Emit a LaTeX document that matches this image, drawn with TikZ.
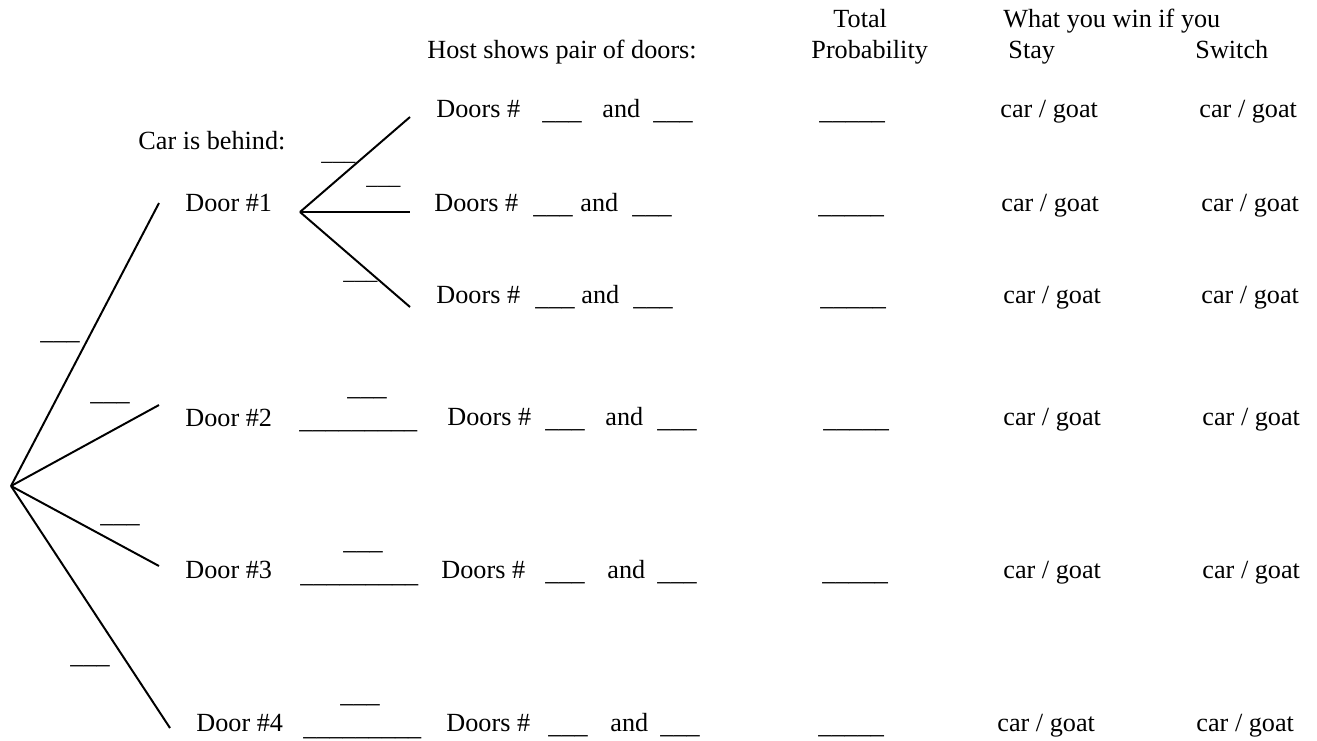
\documentclass[tikz,border=0pt]{standalone}
\usepackage{fontspec}
\setmainfont{Liberation Serif}
\usetikzlibrary{positioning}
\tikzset{
    % text pieces, placed by their baseline
    txt/.style={
           inner sep=0pt,
           anchor=base west,
           font=\fontsize{12}{14}\selectfont,
           },
    % blanks to be filled in, sitting a little low
    fill/.style={txt, yshift=-1.2pt},
    % blanks written next to a branch
    blank/.style={txt},
    smallblank/.style={txt, font=\fontsize{10.4}{12}\selectfont},
    % branches of the tree
    branch/.style={line width=0.9pt},
}
\newcommand{\blankthree}{\_\_\_}
\newcommand{\blankfive}{\_\_\_\_\_}
\newcommand{\blanknine}{\_\_\_\_\_\_\_\_\_}

\begin{document}
\begin{tikzpicture}[x=0.458pt,y=-0.458pt]
\useasboundingbox (0,0) rectangle (1317,740);

% column heads
\node[txt](host) at (427,58) {Host shows pair of doors:};
\node[txt](total) at (833,27) {Total};
\node[txt](prob) at (811,58) {Probability};
\node[txt](win) at (1003,27) {What you win if you};
\node[txt](stay) at (1008,58) {Stay};
\node[txt](switch) at (1195,58) {Switch};

% first stage: where the car is
\node[txt](behind) at (138,149) {Car is behind:};
\node[txt](d1) at (185,211) {Door \#1};
\node[txt](d2) at (185,426) {Door \#2};
\node[txt](d3) at (185,578) {Door \#3};
\node[txt](d4) at (196,731) {Door \#4};

\coordinate (root) at (11,486);
\coordinate (e1) at (159,203);
\coordinate (e2) at (159,405);
\coordinate (e3) at (159,566);
\coordinate (e4) at (170,728);
\path[branch]
	(root) edge (e1) edge (e2) edge (e3) edge (e4);

\node[blank](p1) at (40,339) {\blankthree};
\node[blank](p2) at (90,400) {\blankthree};
\node[blank](p3) at (100,522) {\blankthree};
\node[blank](p4) at (70,663) {\blankthree};

% second stage below door 1
\coordinate (f1) at (300,212);
\coordinate (g1) at (410,117);
\coordinate (g2) at (410,212);
\coordinate (g3) at (410,307);
\path[branch]
	(f1) edge (g1) edge (g2) edge (g3);

\node[smallblank](q1) at (321,160) {\blankthree};
\node[smallblank](q2) at (366,184) {\blankthree};
\node[smallblank](q3) at (343,279) {\blankthree};

% single branch for doors 2, 3 and 4
\node[fill](l2) at (299,426) {\blanknine};
\node[blank](s2) at (347,395) {\blankthree};
\node[fill](l3) at (300,580) {\blanknine};
\node[blank](s3) at (343,549) {\blankthree};
\node[fill](l4) at (303,733) {\blanknine};
\node[blank](s4) at (340,702) {\blankthree};

% rows: baseline / doors / blank / and / blank / probability / stay / switch
\foreach \y/\a/\b/\c/\d/\p/\s/\w [count=\i] in {
	117/436/542/602/653/819/1000/1199,
	211/434/533/580/632/818/1001/1201,
	303/436/535/581/633/820/1003/1201,
	425/447/545/605/657/823/1003/1202,
	578/441/545/607/657/822/1003/1202,
	731/446/548/610/660/818/997/1196}{
	\node[txt](doors\i) at (\a,\y) {Doors \#};
	\node[fill](fst\i) at (\b,\y) {\blankthree};
	\node[txt](and\i) at (\c,\y) {and};
	\node[fill](snd\i) at (\d,\y) {\blankthree};
	\node[fill](tot\i) at (\p,\y) {\blankfive};
	\node[txt](st\i) at (\s,\y) {car / goat};
	\node[txt](sw\i) at (\w,\y) {car / goat};
}
\end{tikzpicture}
\end{document}
